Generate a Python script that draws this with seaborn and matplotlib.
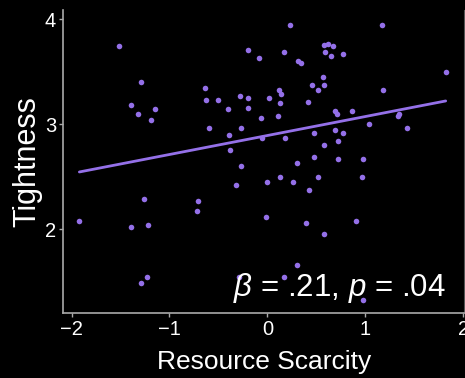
import matplotlib
matplotlib.use("Agg")
import matplotlib.pyplot as plt
import seaborn as sns
import pandas as pd

# Resource scarcity (standardised) and tightness scores
scarcity = [
    -1.52, -1.29, -1.39, -1.32, -1.15, -1.19,
    0.23, -0.20, -0.09, 0.17, 0.31, 0.34, 0.58, 0.62, 0.67, 0.59, 0.65,
    -0.64, -0.63, -0.50, -0.40, -0.28, -0.20, -0.20, -0.07, 0.02, 0.12, 0.14,
    0.13, 0.11, 0.57, 0.46, 0.52, 0.58, 0.41, 0.69, 0.71,
    -0.60, -0.27, -0.39, -0.06, 0.18, 0.48, 0.69, 0.58, 0.72, -0.38, 0.48,
    0.77, 1.17, 1.82, 1.18, 0.86, 1.34, 1.33, 1.04, 1.43, 0.77, 0.72, 0.98,
    -1.26, -1.92, -1.39, -1.22, -1.29, -1.23, -0.72, -0.71,
    -0.27, -0.32, 0.00, 0.13, 0.26, 0.30, 0.52, 0.42,
    -0.01, 0.39, 0.58, 0.30, -0.29, 0.17, 0.97, 0.90, 0.98,
]
tightness = [
    3.75, 3.40, 3.18, 3.10, 3.15, 3.04,
    3.95, 3.71, 3.63, 3.69, 3.60, 3.58, 3.76, 3.77, 3.75, 3.69, 3.65,
    3.35, 3.23, 3.23, 3.15, 3.27, 3.25, 3.16, 3.06, 3.25, 3.33, 3.29,
    3.20, 3.08, 3.45, 3.37, 3.33, 3.37, 3.21, 3.13, 3.10,
    2.96, 2.96, 2.90, 2.87, 2.87, 2.92, 2.95, 2.80, 2.84, 2.75, 2.69,
    3.67, 3.95, 3.50, 3.33, 3.13, 3.10, 3.08, 3.00, 2.96, 2.92, 2.67, 2.67,
    2.29, 2.08, 2.02, 2.04, 1.49, 1.54, 2.17, 2.27,
    2.60, 2.42, 2.45, 2.50, 2.45, 2.63, 2.50, 2.37,
    2.12, 2.06, 1.95, 1.66, 1.54, 1.54, 2.50, 2.08, 1.32,
]
x_ticks = [-2, -1, 0, 1, 2]
y_ticks = [2, 3, 4]
stat_label = r"$\beta$ = .21, $p$ = .04"

df = pd.DataFrame({"Resource Scarcity": scarcity, "Tightness": tightness})

sns.set_style("ticks")
plt.rcParams["font.family"] = ["Liberation Sans", "DejaVu Sans"]
plt.rcParams["mathtext.fontset"] = "custom"
plt.rcParams["mathtext.it"] = "Liberation Sans:italic"
plt.rcParams["mathtext.rm"] = "Liberation Sans"

fig = plt.figure(figsize=(4.65, 3.78), dpi=100, facecolor="black")
ax = fig.add_axes([0.1355, 0.172, 0.863, 0.8015])
ax.set_facecolor("black")

purple = "#9470e8"
sns.regplot(
    data=df, x="Resource Scarcity", y="Tightness", ax=ax, ci=None,
    color=purple,
    scatter_kws={"s": 16, "linewidths": 0, "alpha": 1},
    line_kws={"linewidth": 2},
)

ax.set_xlim(-2.087, 2.01)
ax.set_ylim(1.2, 4.09)
ax.set_xticks(x_ticks)
ax.set_yticks(y_ticks)
ax.set_xticklabels([f"{t}".replace("-", "\u2212") for t in x_ticks])

ax.set_xlabel("Resource Scarcity", color="white", fontsize=19, labelpad=8)
ax.set_ylabel("Tightness", color="white", fontsize=22, labelpad=2)
ax.tick_params(colors="#aaaaaa", labelcolor="white", labelsize=14.5,
               length=3, width=1, pad=2)

for side in ["left", "bottom"]:
    ax.spines[side].set_color("#aaaaaa")
    ax.spines[side].set_linewidth(1.2)
ax.spines["top"].set_visible(False)
ax.spines["right"].set_visible(True)
ax.spines["right"].set_color("#555555")

ax.text(0.953, 0.025, stat_label, transform=ax.transAxes, ha="right",
        va="bottom", color="white", fontsize=22.5)

fig.savefig("out.png", dpi=100, facecolor="black")
